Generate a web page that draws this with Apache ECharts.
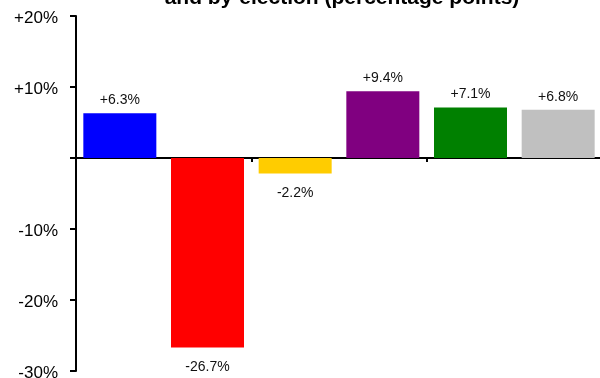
<!DOCTYPE html>
<html>
<head>
<meta charset="utf-8">
<script src="https://cdn.jsdelivr.net/npm/echarts@6/dist/echarts.min.js"></script>
<style>
  html, body { margin: 0; padding: 0; background: #fff; }
  #chart { width: 600px; height: 378px; }
</style>
</head>
<body>
<div id="chart"></div>
<script>
// Change in vote share by party (percentage points)
const parties = ['Conservative', 'Labour', 'Liberal Democrat', 'UKIP', 'Green', 'Others'];
const changes = [6.3, -26.7, -2.2, 9.4, 7.1, 6.8];
const partyColors = ['#0000FF', '#FF0000', '#FFCC00', '#800080', '#008000', '#C0C0C0'];
const yTicks = { min: -30, max: 20, step: 10 };
const titleText = 'and by-election (percentage points)';

const signed = v => (v > 0 ? '+' : '') + v + '%';

const chart = echarts.init(document.getElementById('chart'), null, { renderer: 'canvas' });
chart.setOption({
  animation: false,
  backgroundColor: '#fff',
  textStyle: { fontFamily: 'Liberation Sans, Arial, sans-serif' },
  graphic: [{
    type: 'text',
    x: 342,
    y: 9,
    style: {
      text: titleText,
      textAlign: 'center',
      textVerticalAlign: 'bottom',
      font: 'bold 21px "Liberation Sans", Arial, sans-serif',
      fill: '#000'
    }
  }],
  grid: { left: 76, right: -2, top: 16, bottom: 7, containLabel: false, outerBoundsMode: 'none' },
  xAxis: {
    type: 'category',
    data: parties,
    axisLine: { onZero: true, lineStyle: { color: '#000', width: 2 } },
    axisTick: { show: true, length: 4, lineStyle: { color: '#000', width: 2 } },
    axisLabel: { show: false },
    splitLine: { show: false }
  },
  yAxis: {
    type: 'value',
    min: yTicks.min,
    max: yTicks.max,
    interval: yTicks.step,
    axisLine: { show: true, lineStyle: { color: '#000', width: 2 } },
    axisTick: { show: true, length: 6, lineStyle: { color: '#000', width: 2 } },
    axisLabel: {
      margin: 18,
      fontSize: 17,
      color: '#000',
      verticalAlign: 'top',
      lineHeight: 4,
      formatter: v => (v === 0 ? '' : signed(v))
    },
    splitLine: { show: false }
  },
  series: [{
    type: 'bar',
    barWidth: 73,
    data: changes.map((v, i) => ({
      value: v,
      itemStyle: { color: partyColors[i] },
      label: { position: v >= 0 ? 'top' : 'bottom', distance: v >= 0 ? 6 : 13 }
    })),
    label: {
      show: true,
      fontSize: 14,
      color: '#111',
      formatter: p => signed(p.value)
    }
  }]
});
</script>
</body>
</html>
